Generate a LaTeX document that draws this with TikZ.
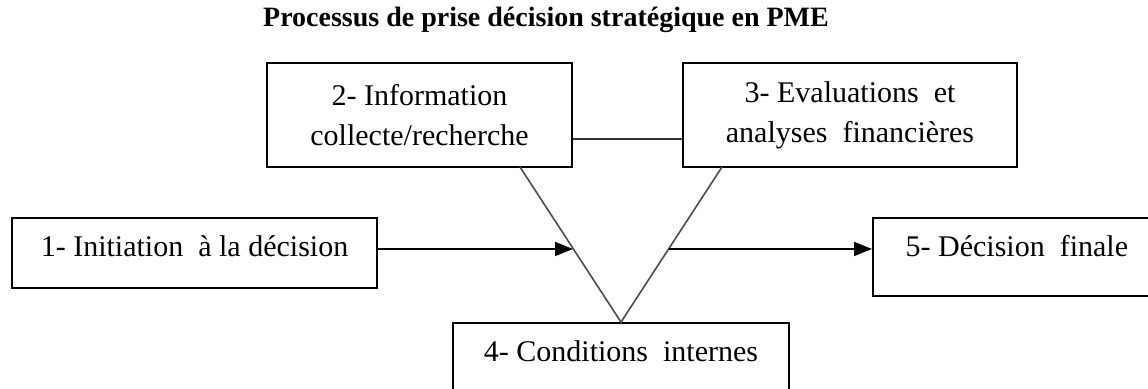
\documentclass[tikz,border=0pt]{standalone}
\usepackage{fontspec}
\setmainfont{Liberation Serif}
\usetikzlibrary{arrows.meta}
\tikzset{
x=0.5pt, y=-0.5pt, % one unit is one pixel of the sketch
box/.style={draw, rectangle, line width=0.9pt, inner sep=0pt, align=center, font=\fontsize{15}{20}\selectfont}, % the five steps
link/.style={line width=0.8pt, black!80}, % plain joining lines
flow/.style={line width=0.8pt, -{Triangle[length=9pt,width=7pt]}}, % arrows of the process
}

\begin{document}
\begin{tikzpicture}
        \useasboundingbox (0,0) rectangle (1148,389);
        \clip (0,0) rectangle (1148,389);

        \node[font=\bfseries\fontsize{14}{16}\selectfont] (title) at (546,20) {Processus de prise décision stratégique en PME};

        \node[box, minimum width=182.5pt, minimum height=35pt, text height=10pt, text depth=6pt] (init) at (194.5,253) {1- Initiation~ à la décision};
        \node[box, minimum width=152.5pt, minimum height=52pt] (info) at (419.5,115) {2- Information\\collecte/recherche};
        \node[box, minimum width=167pt, minimum height=52pt] (eval) at (850,115) {3- Evaluations~ et\\analyses~ financières};
        \node[box, minimum width=168pt, minimum height=36pt, text height=10pt, text depth=7pt] (cond) at (621,359) {4- Conditions~ internes};
        \node[box, minimum width=170pt, minimum height=39pt, text height=10pt, text depth=10pt, anchor=west] (final) at (872,257) {\hspace{-26pt}5- Décision~ finale};

        \coordinate (armL) at (520,167);
        \coordinate (armR) at (722,167);
        \coordinate (joinL) at (573,249);
        \coordinate (joinR) at (669,249);

        \draw[link] ([yshift=-12pt]info.east) -- ([yshift=-12pt]eval.west);
        \draw[link, black!70] (armL) -- (cond.north) -- (armR);
        \draw[flow] ([yshift=2pt]init.east) -- (joinL);
        \draw[flow] (joinR) -- ([yshift=4pt]final.west);
      \end{tikzpicture}
\end{document}
